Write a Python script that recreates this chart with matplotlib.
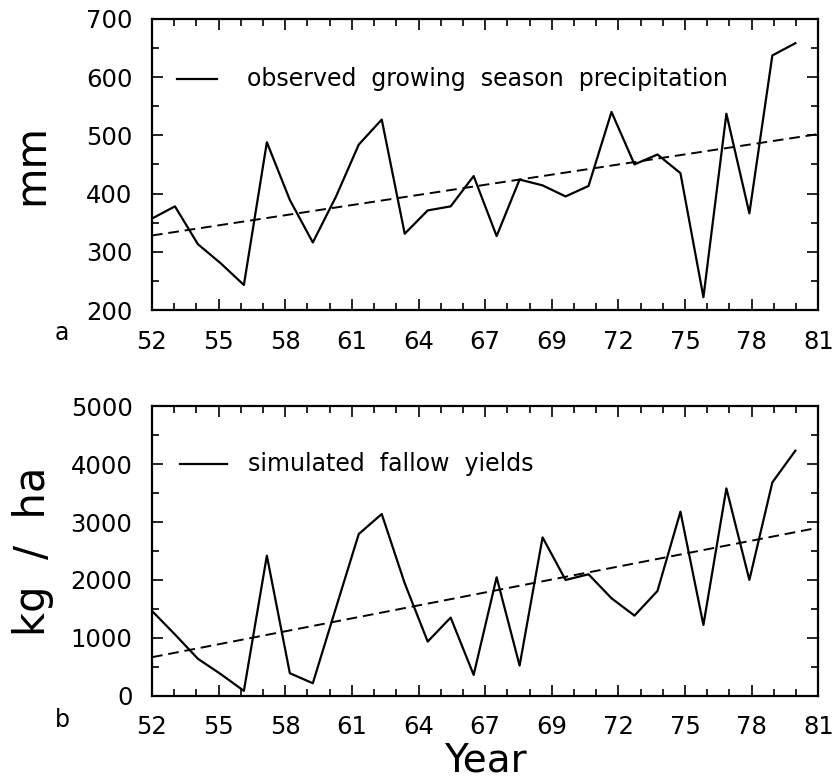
import numpy as np
import matplotlib
matplotlib.use("Agg")
import matplotlib.pyplot as plt

# ------------------------------------------------------------
# Data
# ------------------------------------------------------------
years = list(range(52, 81))

precip_mm = [357, 378, 313, 280, 243, 488, 389, 316, 394, 484, 527, 331,
             371, 378, 430, 327, 424, 414, 395, 413, 540, 450, 467, 435,
             222, 537, 366, 637, 658]

yield_kg = [1466, 1060, 640, 374, 86, 2419, 391, 218, 1510, 2793, 3138, 1943,
            937, 1351, 362, 2046, 523, 2735, 2000, 2098, 1684, 1385, 1810, 3178,
            1224, 3580, 2000, 3684, 4230]

trend_years = [52, 81]
precip_trend = [328, 502]
yield_trend = [667, 2902]

xtick_pos = np.linspace(52, 81, 11)
xtick_labels = ["52", "55", "58", "61", "64", "67", "69", "72", "75", "78", "81"]

plt.rcParams['font.family'] = ['DejaVu Sans']

fig = plt.figure(figsize=(8.35, 7.81), dpi=100)
ax_a = fig.add_axes([0.182, 0.603, 0.798, 0.373])
ax_b = fig.add_axes([0.182, 0.109, 0.798, 0.371])


def style_axis(ax, ylim, ymajor, yminor):
    ax.set_xlim(52, 81)
    ax.set_ylim(*ylim)
    ax.set_xticks(xtick_pos)
    ax.set_xticklabels(xtick_labels)
    ax.set_xticks(np.linspace(52, 81, 31), minor=True)
    ax.set_yticks(ymajor)
    ax.set_yticks(yminor, minor=True)
    ax.tick_params(which='both', direction='in', top=True, right=True,
                   width=1.2, labelsize=17.5)
    ax.tick_params(which='major', length=8)
    ax.tick_params(which='minor', length=5)
    ax.tick_params(axis='x', pad=14)
    ax.tick_params(axis='y', pad=14)
    for s in ax.spines.values():
        s.set_linewidth(1.6)


# ---- panel a ----
ax_a.plot(years, precip_mm, color='black', lw=1.6)
la, = ax_a.plot(trend_years, precip_trend, color='black', lw=1.4)
la.set_dashes((5.5, 3))
style_axis(ax_a, (200, 700), np.arange(200, 701, 100), np.arange(200, 701, 50))
ax_a.set_ylabel('mm', fontsize=30, labelpad=24)
ax_a.plot([0.0375, 0.098], [0.794, 0.794], color='black', lw=1.6,
          transform=ax_a.transAxes)
ax_a.text(0.143, 0.794, 'observed  growing  season  precipitation',
          transform=ax_a.transAxes, fontsize=17, va='center', ha='left')
fig.text(62 / 835, 1 - 333 / 781, 'a', fontsize=17, ha='center', va='center')

# ---- panel b ----
ax_b.plot(years, yield_kg, color='black', lw=1.6)
lb, = ax_b.plot(trend_years, yield_trend, color='black', lw=1.4)
lb.set_dashes((5.5, 3))
style_axis(ax_b, (0, 5000), np.arange(0, 5001, 1000), np.arange(0, 5001, 500))
ax_b.set_ylabel('kg  /  ha', fontsize=30, labelpad=12)
fig.text(0.182 + 0.798 / 2, 1 - 771 / 781, 'Year', fontsize=28,
         ha='center', va='baseline')
ax_b.plot([0.042, 0.113], [0.80, 0.80], color='black', lw=1.6,
          transform=ax_b.transAxes)
ax_b.text(0.144, 0.80, 'simulated  fallow  yields',
          transform=ax_b.transAxes, fontsize=17, va='center', ha='left')
fig.text(62 / 835, 1 - 720 / 781, 'b', fontsize=17, ha='center', va='center')

fig.savefig('out.png', dpi=100)
